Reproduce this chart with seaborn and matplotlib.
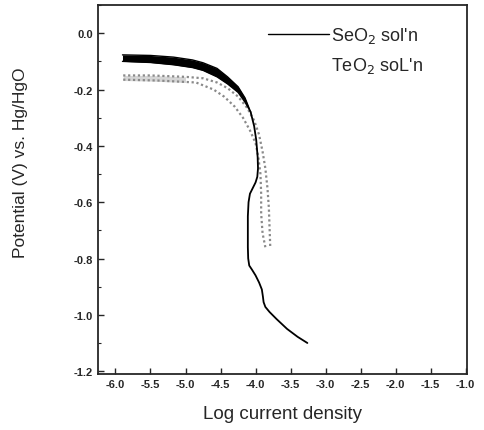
import matplotlib
matplotlib.use("Agg")
import matplotlib.pyplot as plt
import seaborn as sns
import pandas as pd
from matplotlib.lines import Line2D

# SeO2 solution: upper and lower edges of the noisy band at the start, then the main trace
se_upper_x = [-5.90, -5.50, -5.17, -4.90, -4.75, -4.55, -4.40, -4.25, -4.15, -4.07]
se_upper_y = [-0.077, -0.079, -0.085, -0.095, -0.105, -0.125, -0.155, -0.19, -0.23, -0.28]
se_lower_y = [-0.100, -0.104, -0.112, -0.122, -0.132, -0.155, -0.18, -0.21, -0.245, -0.28]

se_main_x = [-4.07, -4.02, -3.99, -3.97, -3.965, -3.975, -4.00, -4.04, -4.08, -4.10,
             -4.11, -4.11, -4.105, -4.09, -4.05, -4.00, -3.95, -3.91, -3.895, -3.885,
             -3.86, -3.80, -3.70, -3.55, -3.40, -3.26]
se_main_y = [-0.28, -0.33, -0.38, -0.44, -0.48, -0.51, -0.53, -0.55, -0.57, -0.60,
             -0.65, -0.76, -0.80, -0.825, -0.84, -0.86, -0.885, -0.91, -0.935, -0.955,
             -0.972, -0.99, -1.015, -1.05, -1.078, -1.10]

# TeO2 solution: outer and inner traces of the stippled band
te_a_x = [-5.89, -5.50, -5.00, -4.75, -4.55, -4.40, -4.25, -4.12, -4.02, -3.95,
          -3.90, -3.86, -3.83, -3.81, -3.80, -3.79]
te_a_y = [-0.15, -0.15, -0.155, -0.16, -0.175, -0.195, -0.225, -0.265, -0.31, -0.36,
          -0.42, -0.48, -0.55, -0.62, -0.69, -0.76]
te_b_x = [-5.89, -5.40, -4.85, -4.60, -4.45, -4.30, -4.18, -4.08, -4.00, -3.96,
          -3.93, -3.92, -3.92, -3.90, -3.86]
te_b_y = [-0.165, -0.168, -0.175, -0.20, -0.225, -0.26, -0.30, -0.345, -0.39, -0.44,
          -0.50, -0.57, -0.64, -0.71, -0.76]

x_ticks = [-6.0, -5.5, -5.0, -4.5, -4.0, -3.5, -3.0, -2.5, -2.0, -1.5, -1.0]
y_ticks = [0.0, -0.2, -0.4, -0.6, -0.8, -1.0, -1.2]

sns.set_style("ticks")
plt.rcParams['font.family'] = ['Liberation Sans', 'DejaVu Sans']
plt.rcParams['xtick.direction'] = 'in'
plt.rcParams['ytick.direction'] = 'in'

fig = plt.figure(figsize=(4.85, 4.31), dpi=100)
ax = fig.add_axes([0.202, 0.130, 0.761, 0.856])

# TeO2 (gray stipple)
ax.fill_between(te_a_x[:3], te_a_y[:3], [-0.168, -0.17, -0.175], color="#d5d5d5", lw=0)
for xs, ys in [(te_a_x, te_a_y), (te_b_x, te_b_y)]:
    df = pd.DataFrame({"x": xs, "y": ys})
    sns.lineplot(data=df, x="x", y="y", sort=False, estimator=None, ax=ax,
                 color="#8a8a8a", lw=1.6, linestyle=(0, (1, 1.2)))

# SeO2 (black)
ax.fill_between(se_upper_x, se_upper_y, se_lower_y, color="black", lw=0)
for xs, ys, lw in [(se_upper_x, se_upper_y, 1.0), (se_upper_x, se_lower_y, 1.0),
                   (se_main_x, se_main_y, 1.3)]:
    df = pd.DataFrame({"x": xs, "y": ys})
    sns.lineplot(data=df, x="x", y="y", sort=False, estimator=None, ax=ax,
                 color="black", lw=lw)

ax.set_xlim(-6.25, -0.98)
ax.set_ylim(-1.21, 0.10)
ax.set_xticks(x_ticks)
ax.set_xticklabels([f"{v:.1f}" for v in x_ticks], fontsize=8, fontweight="bold")
ax.set_yticks(y_ticks)
ax.set_yticklabels([f"{v:.1f}" for v in y_ticks], fontsize=8, fontweight="bold")
ax.set_yticks([0.1, -0.1, -0.3, -0.5, -0.7, -0.9, -1.1], minor=True)
ax.tick_params(which="major", length=4, width=1.0)
ax.tick_params(which="minor", length=2.5, width=0.8)
for s in ax.spines.values():
    s.set_visible(True)
    s.set_linewidth(1.3)

ax.set_xlabel("Log current density", fontsize=13.5, labelpad=12)
ax.set_ylabel("Potential (V) vs. Hg/HgO", fontsize=12.5)
ax.yaxis.set_label_coords(-0.19, 0.575)

handles = [Line2D([], [], color="black", lw=1),
           Line2D([], [], color="white", lw=1)]
ax.legend(handles, ["SeO$_2$ sol'n", "TeO$_2$ soL'n"], loc="upper right",
          frameon=False, fontsize=13, handlelength=3.4, handletextpad=0.1,
          labelspacing=0.55, bbox_to_anchor=(0.925, 0.99))

fig.savefig("out.png", dpi=100)
